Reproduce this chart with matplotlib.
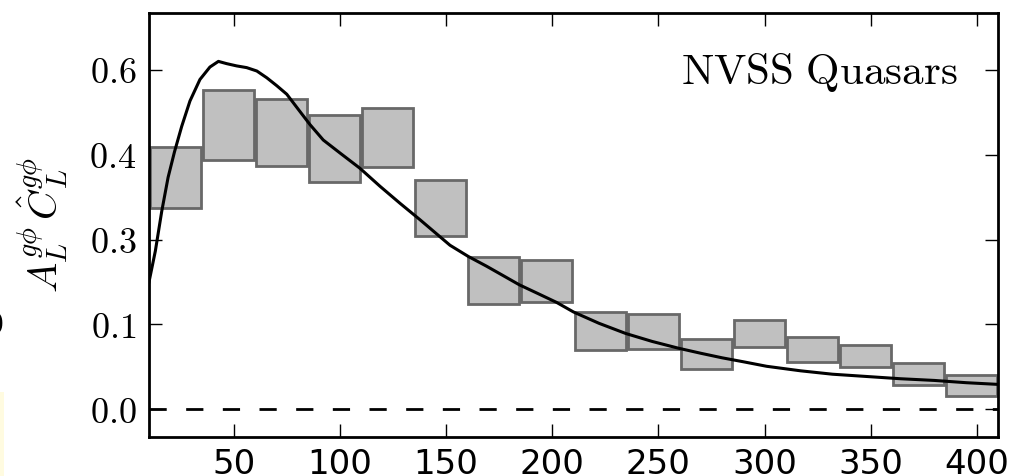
import matplotlib
matplotlib.use("Agg")
import matplotlib.pyplot as plt
from matplotlib.patches import Rectangle
import numpy as np

plt.rcParams['mathtext.fontset'] = 'cm'

# Bandpower bins (centres) and their 1-sigma ranges
bin_centers = [22.5, 47.5, 72.5, 97.5, 122.5, 147.5, 172.5, 197.5,
               222.5, 247.5, 272.5, 297.5, 322.5, 347.5, 372.5, 397.5]
box_low = [0.356, 0.441, 0.430, 0.402, 0.428, 0.307, 0.186, 0.190,
           0.104, 0.106, 0.071, 0.110, 0.083, 0.074, 0.043, 0.024]
box_high = [0.464, 0.564, 0.548, 0.520, 0.533, 0.405, 0.269, 0.264,
            0.172, 0.168, 0.124, 0.158, 0.127, 0.114, 0.081, 0.061]
bin_width = 24.0

# Theory curve
curve_L = [10, 13, 16, 19, 22, 25.4, 29.3, 34, 38.7, 42.7, 46.6, 51.3, 56,
           60.8, 65.5, 70.2, 74.9, 81.2, 85.9, 92.1, 100, 109.4, 118.9,
           128.3, 137.7, 147.1, 151.8, 160.5, 169, 177, 184.5, 193, 202,
           210, 222, 234.6, 247, 259.4, 270, 280, 290, 301, 317, 332, 348,
           364, 380, 395, 410]
curve_val = [0.225, 0.28, 0.35, 0.41, 0.455, 0.50, 0.545, 0.583, 0.605,
             0.615, 0.611, 0.607, 0.604, 0.598, 0.586, 0.572, 0.557, 0.526,
             0.503, 0.476, 0.453, 0.426, 0.394, 0.364, 0.335, 0.305, 0.290,
             0.270, 0.253, 0.236, 0.220, 0.205, 0.189, 0.172, 0.152, 0.134,
             0.120, 0.108, 0.099, 0.091, 0.084, 0.076, 0.068, 0.062, 0.058,
             0.054, 0.051, 0.047, 0.044]

xticks = [50, 100, 150, 200, 250, 300, 350, 400]
yticks = [0.0, 0.15, 0.30, 0.45, 0.60]
ytick_labels = ['0.0', '0.1', '0.3', '0.4', '0.6']

fig = plt.figure(figsize=(10.19, 4.76), dpi=100)
ax = fig.add_axes([149/1019, 1-437/476, (998-149)/1019, (437-13.3)/476])

for c, lo, hi in zip(bin_centers, box_low, box_high):
    ax.add_patch(Rectangle((c - bin_width/2, lo), bin_width, hi - lo,
                           facecolor='#c0c0c0', edgecolor='#686868',
                           linewidth=2.0, zorder=2))

ax.plot(curve_L, curve_val, color='black', lw=2.2, zorder=3,
        solid_joinstyle='round')
ax.axhline(0, color='black', lw=2.0, dashes=(6.2, 7.0), zorder=1)

ax.set_xlim(10, 410)
ax.set_ylim(-0.049, 0.70)
ax.set_xticks(xticks)
ax.set_xticklabels([str(t) for t in xticks], fontsize=24.5, family='DejaVu Sans')
ax.set_yticks(yticks)
ax.set_yticklabels(['$%s$' % s for s in ytick_labels], fontsize=26)
ax.tick_params(direction='in', length=9.5, width=1.0, top=True, right=True)
ax.tick_params(axis='x', pad=8)
ax.tick_params(axis='y', pad=9)
for sp in ax.spines.values():
    sp.set_linewidth(2.0)

ax.set_ylabel(r'$A_L^{g\phi}\,\hat{C}_L^{g\phi}$', fontsize=29, labelpad=14)
ax.text(0.952, 0.86, r'$\mathrm{NVSS\ Quasars}$', transform=ax.transAxes,
        ha='right', va='center', fontsize=31)

# Cropped remnants from a neighbouring panel at the left edge
fig.text(4/1019, 1-325/476, '0', ha='right', va='center', fontsize=22,
         family='DejaVu Sans')
fig.patches.append(Rectangle((0, 0), 4/1019, (476-392)/476,
                             transform=fig.transFigure, facecolor='#fffbe0',
                             edgecolor='none'))

fig.savefig('out.png', dpi=100)
